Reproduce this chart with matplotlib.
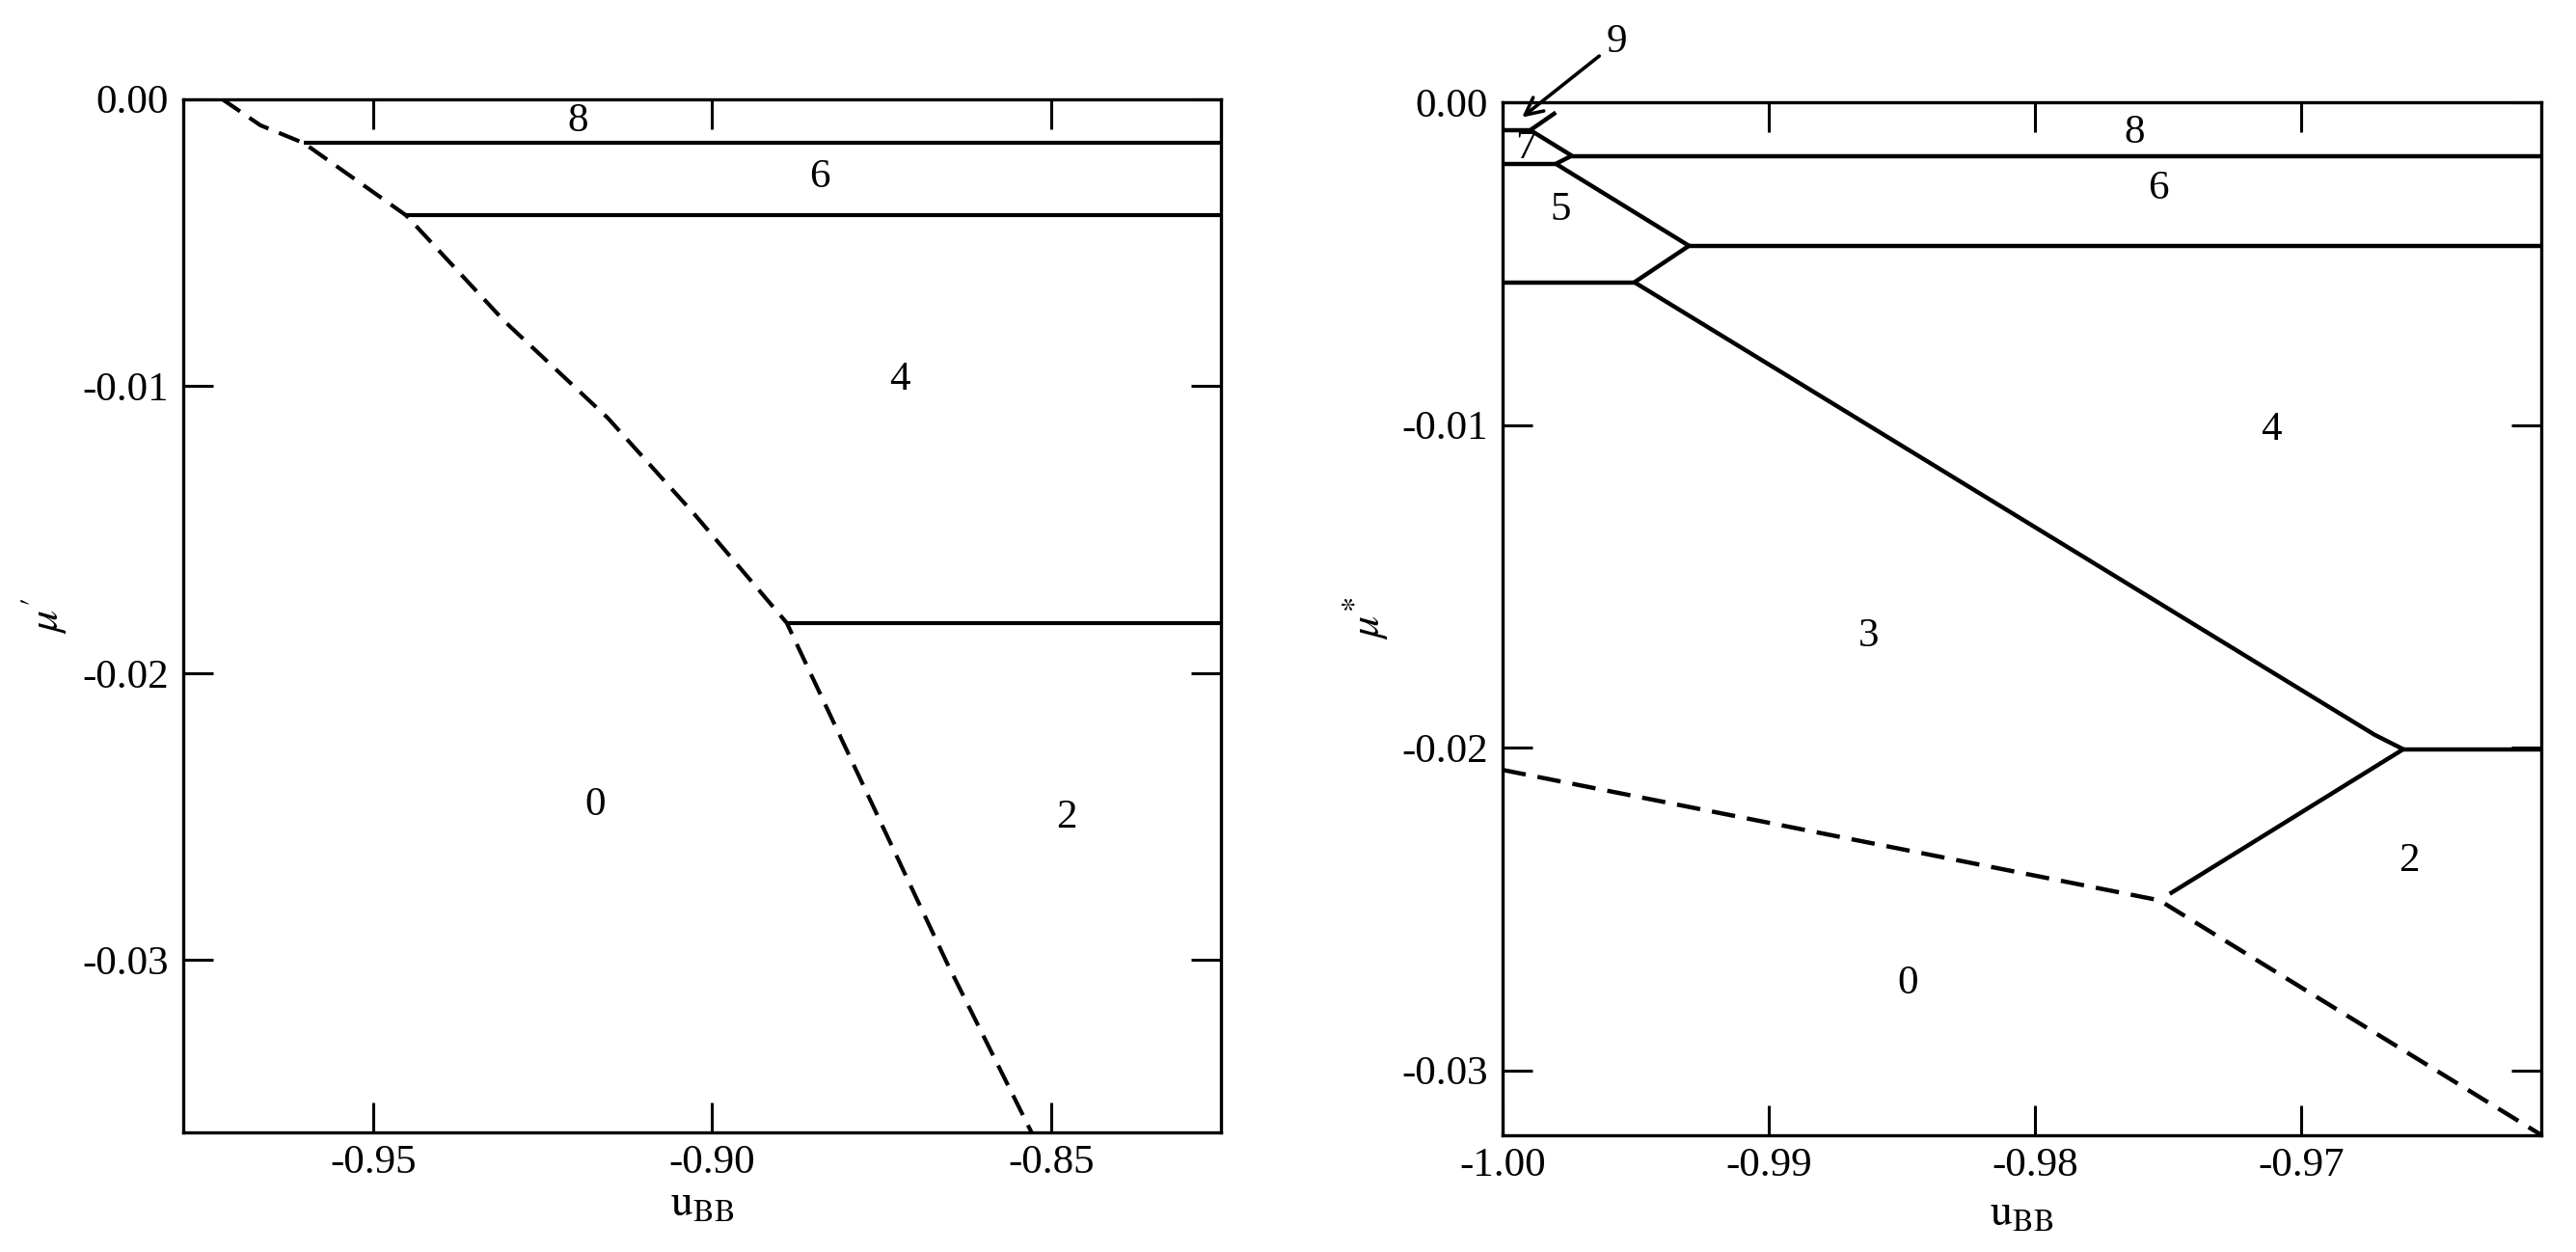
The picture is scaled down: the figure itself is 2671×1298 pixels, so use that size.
import matplotlib
matplotlib.use("Agg")
import matplotlib.pyplot as plt

plt.rcParams['font.family'] = ['Liberation Serif', 'DejaVu Serif']
plt.rcParams['mathtext.fontset'] = 'stix'
plt.rcParams['axes.unicode_minus'] = False

# ---------------- Left panel data ----------------
left_xlim = (-0.978, -0.825)
left_ylim = (-0.036, 0.0)
left_xticks = [-0.95, -0.90, -0.85]
left_xticklabels = ['-0.95', '-0.90', '-0.85']
left_yticks = [0.0, -0.01, -0.02, -0.03]
left_yticklabels = ['0.00', '-0.01', '-0.02', '-0.03']

left_dash_x = [-0.9723, -0.9666, -0.9602, -0.9451, -0.9306, -0.9154, -0.9026, -0.8890, -0.8654, -0.8529]
left_dash_y = [0.0, -0.00092, -0.00154, -0.00406, -0.00775, -0.01111, -0.01447, -0.01825, -0.03008, -0.0360]

left_hline_start = [-0.9602, -0.9451, -0.8890]
left_hline_y = [-0.00154, -0.00406, -0.01825]

left_labels = ['8', '6', '4', '0', '2']
left_label_x = [-0.9198, -0.8842, -0.8723, -0.9173, -0.8478]
left_label_y = [-0.00079, -0.00274, -0.00977, -0.0246, -0.02505]

# ---------------- Right panel data ----------------
right_xlim = (-1.0, -0.961)
right_ylim = (-0.032, 0.0)
right_xticks = [-1.00, -0.99, -0.98, -0.97]
right_xticklabels = ['-1.00', '-0.99', '-0.98', '-0.97']
right_yticks = [0.0, -0.01, -0.02, -0.03]
right_yticklabels = ['0.00', '-0.01', '-0.02', '-0.03']

# solid phase boundaries (polylines)
right_solid_x = [
    [-1.0, -0.99896],
    [-0.99896, -0.9980],
    [-0.99896, -0.9974],
    [-0.9980, -0.9974],
    [-0.9974, -0.961],
    [-1.0, -0.9980],
    [-0.9980, -0.99300],
    [-0.99300, -0.961],
    [-0.99300, -0.99505],
    [-1.0, -0.99505],
    [-0.99505, -0.96726, -0.96618],
    [-0.96618, -0.961],
    [-0.96618, -0.97495],
]
right_solid_y = [
    [-0.000867, -0.000867],
    [-0.000867, -0.00032],
    [-0.000867, -0.00166],
    [-0.00191, -0.00166],
    [-0.00168, -0.00168],
    [-0.00191, -0.00191],
    [-0.00191, -0.00445],
    [-0.00445, -0.00445],
    [-0.00445, -0.00558],
    [-0.00558, -0.00558],
    [-0.00558, -0.01960, -0.02005],
    [-0.02005, -0.02005],
    [-0.02005, -0.02453],
]

right_dash_x = [-1.0, -0.97534, -0.961]
right_dash_y = [-0.02069, -0.02473, -0.0320]

right_labels = ['7', '5', '8', '6', '4', '3', '2', '0']
right_label_x = [-0.99912, -0.99782, -0.97626, -0.97539, -0.97114, -0.98625, -0.96598, -0.98477]
right_label_y = [-0.001435, -0.003356, -0.00096, -0.00269, -0.01017, -0.016557, -0.02353, -0.02732]

arrow_label = '9'
arrow_label_xy = (-0.99571, 0.00187)
arrow_tail = (-0.99637, 0.00143)
arrow_head = (-0.99927, -0.00047)

# ---------------- Figure ----------------
fig = plt.figure(figsize=(26.71, 12.98), dpi=100)
axL = fig.add_axes([0.0711, 0.0955, 0.4028, 0.8255])
axR = fig.add_axes([0.5833, 0.0935, 0.4032, 0.8249])

FS = 31
LW = 3.0
dash = (0, (5.5, 2.8))


def style(ax, xlim, ylim, xt, xtl, yt, ytl):
    ax.set_xlim(*xlim)
    ax.set_ylim(*ylim)
    ax.set_xticks(xt)
    ax.set_xticklabels(xtl, fontsize=FS)
    ax.set_yticks(yt)
    ax.set_yticklabels(ytl, fontsize=FS)
    ax.tick_params(axis='both', which='major', direction='in', length=22, width=2.2,
                   top=True, right=True)
    ax.tick_params(axis='x', pad=9)
    ax.tick_params(axis='y', pad=11)
    for s in ax.spines.values():
        s.set_linewidth(2.4)


style(axL, left_xlim, left_ylim, left_xticks, left_xticklabels, left_yticks, left_yticklabels)
style(axR, right_xlim, right_ylim, right_xticks, right_xticklabels, right_yticks, right_yticklabels)

# Left panel
axL.plot(left_dash_x, left_dash_y, color='black', lw=LW, linestyle=dash)
for xs, ys in zip(left_hline_start, left_hline_y):
    axL.plot([xs, left_xlim[1]], [ys, ys], color='black', lw=LW, solid_capstyle='butt')
for t, x, y in zip(left_labels, left_label_x, left_label_y):
    axL.text(x, y, t, fontsize=FS, ha='center', va='center')

axL.set_xlabel(r'$\mathrm{u}_{\mathrm{BB}}$', fontsize=FS + 2)
axL.xaxis.set_label_coords(0.5, -0.050)
axL.set_ylabel(r'$\mu^{\prime}$', fontsize=FS + 2)
axL.yaxis.set_label_coords(-0.110, 0.5)

# Right panel
for xs, ys in zip(right_solid_x, right_solid_y):
    axR.plot(xs, ys, color='black', lw=3.2, solid_capstyle='butt', solid_joinstyle='miter')
axR.plot(right_dash_x, right_dash_y, color='black', lw=3.2, linestyle=dash)
for t, x, y in zip(right_labels, right_label_x, right_label_y):
    axR.text(x, y, t, fontsize=FS, ha='center', va='center')

axR.annotate('', xy=arrow_head, xytext=arrow_tail, annotation_clip=False,
             arrowprops=dict(arrowstyle='->', lw=2.6, color='black', mutation_scale=32,
                             shrinkA=0, shrinkB=0))
axR.text(arrow_label_xy[0], arrow_label_xy[1], arrow_label, fontsize=FS,
         ha='center', va='center', clip_on=False)

axR.set_xlabel(r'$\mathrm{u}_{\mathrm{BB}}$', fontsize=FS + 2)
axR.xaxis.set_label_coords(0.5, -0.057)
axR.set_ylabel(r'$\mu^{*}$', fontsize=FS + 2)
axR.yaxis.set_label_coords(-0.108, 0.5)

fig.savefig('out.png', dpi=100)
